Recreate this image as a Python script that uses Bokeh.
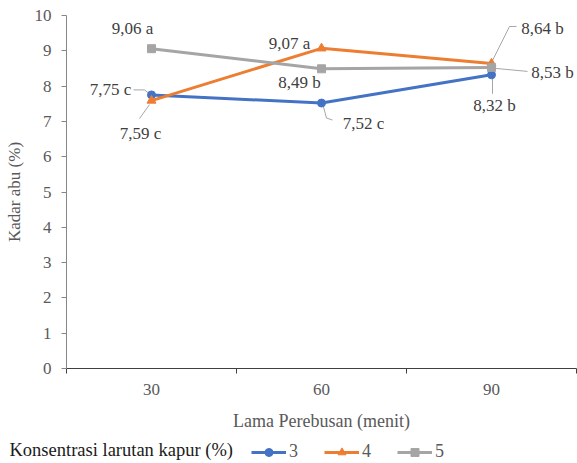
from bokeh.plotting import figure
from bokeh.layouts import column, row
from bokeh.models import Range1d, FixedTicker, Legend, LegendItem, Label, ColumnDataSource
from bokeh.core.properties import value
from bokeh.embed import file_html
from bokeh.resources import INLINE

# ---------------- data ----------------
durations = [30, 60, 90]                 # Lama Perebusan (menit)
series_names = ["3", "4", "5"]           # Konsentrasi larutan kapur (%)
kadar_3 = [7.75, 7.52, 8.32]
kadar_4 = [7.59, 9.07, 8.64]
kadar_5 = [9.06, 8.49, 8.53]
notasi_3 = ["c", "c", "b"]
notasi_4 = ["c", "a", "b"]
notasi_5 = ["a", "b", "b"]
y_ticks = list(range(0, 11))
x_ticks = [30, 60, 90]
x_bounds = [15, 45, 75, 105]

# ---------------- styling ----------------
FONT = "Liberation Serif"
colors = ["#4472C4", "#ED7D31", "#A5A5A5"]
markers = ["circle", "triangle", "square"]
marker_sizes = [8, 9, 8]
# label offsets in screen px (dx, dy downward) per series per point
label_offsets = [
    [(-41, -5), (42, 20), (3, 31)],
    [(-11, 33), (-32, -5), (51, -35)],
    [(-19, -20), (-22, 14), (61, 5)],
]
# leader line paths in screen px relative to each point (None = no leader)
leader_paths = [
    [[(-18, -5), (-7, -5), (-3, -2)], [(2, 4), (5, 15), (11, 17)], [(1, 4), (1, 19)]],
    [[(-12, 18), (-2, 4)], None, [(1, -3), (18, -37), (25, -37)]],
    [None, None, [(4, 1), (36, 4)]],
]

W = 577
H1, H2 = 440, 23
BL, BR, BT, BB = 66, 1, 15, 72
x0, x1, y0, y1 = 15, 105, 0, 10

p = figure(width=W, height=H1, x_range=Range1d(x0, x1), y_range=Range1d(y0, y1),
           output_backend="svg", toolbar_location=None,
           min_border_left=BL, min_border_right=BR, min_border_top=BT, min_border_bottom=BB)
p.outline_line_color = None
p.grid.visible = False

xppu = (W - BL - BR) / (x1 - x0)
yppu = (H1 - BT - BB) / (y1 - y0)

# axes
ya = p.yaxis[0]
ya.ticker = FixedTicker(ticks=y_ticks)
ya.axis_line_color = "#868686"
ya.major_tick_line_color = "#868686"
ya.major_tick_out = 5
ya.major_tick_in = 0
ya.minor_tick_line_color = None
ya.major_label_text_font = FONT
ya.major_label_text_font_size = "17px"
ya.major_label_text_color = "#595959"
ya.major_label_standoff = 10
ya.axis_label = "Kadar abu (%)"
ya.axis_label_text_font = FONT
ya.axis_label_text_font_style = "normal"
ya.axis_label_text_font_size = "17px"
ya.axis_label_text_color = "#595959"
ya.axis_label_standoff = 8

xa = p.xaxis[0]
xa.ticker = FixedTicker(ticks=x_ticks, minor_ticks=x_bounds)
xa.axis_line_color = "#404040"
xa.major_tick_out = 0
xa.major_tick_in = 0
xa.minor_tick_line_color = "#404040"
xa.minor_tick_out = 5
xa.minor_tick_in = 0
xa.major_label_text_font = FONT
xa.major_label_text_font_size = "17px"
xa.major_label_text_color = "#595959"
xa.major_label_standoff = 10
xa.axis_label = "Lama Perebusan (menit)"
xa.axis_label_text_font = FONT
xa.axis_label_text_font_style = "normal"
xa.axis_label_text_font_size = "18px"
xa.axis_label_text_color = "#595959"
xa.axis_label_standoff = 13

series = [kadar_3, kadar_4, kadar_5]
notasi = [notasi_3, notasi_4, notasi_5]

# leader lines
lx, ly = [], []
for vals, paths in zip(series, leader_paths):
    for xv, yv, path in zip(durations, vals, paths):
        if path is None:
            continue
        lx.append([xv + dx / xppu for dx, dy in path])
        ly.append([yv - dy / yppu for dx, dy in path])
p.multi_line(lx, ly, line_color="#A6A6A6", line_width=1)

for name, vals, col, mk, ms in zip(series_names, series, colors, markers, marker_sizes):
    p.line(durations, vals, line_color=col, line_width=3)
    p.scatter(durations, vals, marker=mk, size=ms, fill_color=col, line_color=col)

# data labels
tx, ty, tt, ox, oy = [], [], [], [], []
for vals, lets, offs in zip(series, notasi, label_offsets):
    for xv, yv, le, (dx, dy) in zip(durations, vals, lets, offs):
        tx.append(xv)
        ty.append(yv)
        tt.append(f"{yv:.2f}".replace(".", ",") + " " + le)
        ox.append(dx)
        oy.append(dy)
src = ColumnDataSource(dict(x=tx, y=ty, text=tt, xo=ox, yo=oy))
p.text(x="x", y="y", text="text", x_offset="xo", y_offset="yo", source=src,
       text_font=value(FONT), text_font_size="17px", text_color="#404040",
       text_align="center", text_baseline="middle")

# ---------------- legend row ----------------
p2 = figure(width=W, height=H2, x_range=Range1d(1000, 1000 + W), y_range=Range1d(1000, 1000 + H2),
            output_backend="svg", toolbar_location=None,
            x_axis_location=None, y_axis_location=None,
            min_border_left=0, min_border_right=0, min_border_top=0, min_border_bottom=0)
p2.grid.visible = False
p2.outline_line_color = None

items = []
for name, vals, col, mk, ms in zip(series_names, series, colors, markers, marker_sizes):
    ln = p2.line(durations, vals, line_color=col, line_width=3)
    sc = p2.scatter(durations, vals, marker=mk, size=ms - 1, fill_color=col, line_color=col)
    items.append(LegendItem(label=name, renderers=[ln, sc]))

legend = Legend(items=items, location=(251, 1), orientation="horizontal",
                glyph_width=35, glyph_height=20, label_standoff=3, spacing=15,
                padding=0, margin=0, border_line_alpha=0, background_fill_alpha=0,
                label_text_font=FONT, label_text_font_size="18px",
                label_text_color="#595959", label_height=20)
p2.add_layout(legend, "center")

p2.add_layout(Label(x=9, y=14, x_units="screen", y_units="screen",
                    text="Konsentrasi larutan kapur (%)", text_font=FONT,
                    text_font_size="18.5px", text_color="#1a1a1a",
                    text_align="left", text_baseline="middle"))

open("out.html", "w").write(file_html(column(p, row(p2, spacing=0), spacing=0), INLINE))
